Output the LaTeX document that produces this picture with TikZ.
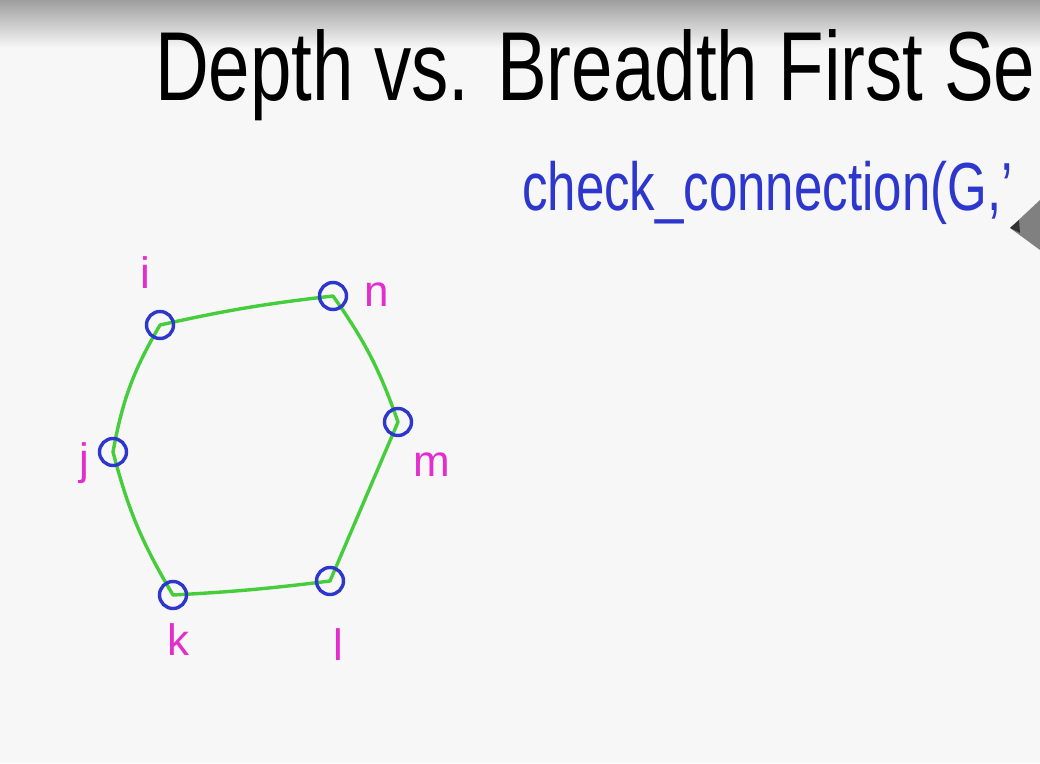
\documentclass[tikz,border=0pt]{standalone}
\usepackage{fontspec}
\setmainfont{Liberation Sans}
\usetikzlibrary{backgrounds}
\definecolor{penblue}{RGB}{45,55,205}
\definecolor{pengreen}{RGB}{70,205,60}
\definecolor{penpink}{RGB}{228,45,205}
\begin{document}
\begin{tikzpicture}[x=1pt, y=-1pt,
  vtx/.style={circle, draw=penblue, line width=3.4pt, minimum size=27pt, inner sep=0pt},
  vlab/.style={text=penpink, inner sep=0pt, font=\fontsize{44}{44}\selectfont},
  gedge/.style={pengreen, line width=3.4pt, line cap=round},
  hand/.style={inner sep=0pt, anchor=base west}]
  \useasboundingbox (0,0) rectangle (1040,763);
  % vertices
  \node[vtx] (i) at (160,325) {};
  \node[vtx] (n) at (333,296) {};
  \node[vtx] (m) at (398,422) {};
  \node[vtx] (l) at (330,581) {};
  \node[vtx] (k) at (173,595) {};
  \node[vtx] (j) at (113,452) {};
  % labels
  \node[vlab] (li) at (145,273) {i};
  \node[vlab] (ln) at (377,295) {n};
  \node[vlab] (lm) at (432,465) {m};
  \node[vlab] (ll) at (338,645) {l};
  \node[vlab] (lk) at (178,640) {k};
  \node[vlab] (lj) at (84,463) {j};
  % heading and call
  \node[hand, xscale=0.76, font=\fontsize{98}{98}\selectfont] (title) at (155,100) {Depth vs. Breadth First Se};
  \node[hand, xscale=0.75, text=penblue, font=\fontsize{68}{68}\selectfont] (call) at (522,210) {check\_connection(G,'};
  % marker tip
  \fill[black!50] (1010,228) -- (1040,200) -- (1040,250) -- cycle;
  \fill[black!80] (1010,228) -- (1019,220) -- (1020,233) -- cycle;
  \begin{scope}[on background layer]
    \fill[white!97!black] (0,0) rectangle (1040,763);
    \shade[top color=black!38, bottom color=white!97!black] (0,0) rectangle (1040,48);
    \draw[gedge] (i.center) to[bend left=3] (n.center);
    \draw[gedge] (n.center) to[bend left=8] (m.center);
    \draw[gedge] (m.center) -- (l.center);
    \draw[gedge] (l.center) to[bend left=2] (k.center);
    \draw[gedge] (k.center) to[bend left=8] (j.center);
    \draw[gedge] (j.center) to[bend left=10] (i.center);
  \end{scope}
\end{tikzpicture}
\end{document}
